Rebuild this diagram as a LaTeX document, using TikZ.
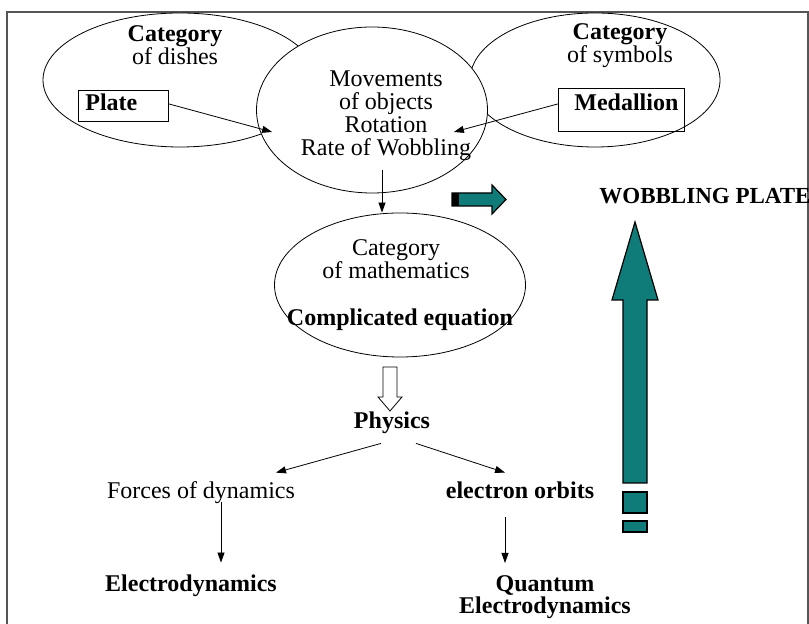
\documentclass[tikz,border=0pt,12pt]{standalone}
\usepackage{fontspec}
\setmainfont{Liberation Serif}
\usetikzlibrary{shapes.geometric,arrows.meta}
\definecolor{wobteal}{RGB}{16,124,122}
\definecolor{framegray}{RGB}{85,85,85}

\begin{document}
\begin{tikzpicture}[x=0.5pt, y=-0.5pt,
	oval/.style={draw, ellipse, inner sep=0pt, fill=white},
	lbl/.style={inner sep=2pt, text height=8.5pt, text depth=2.5pt},
	blk/.style={align=center, inner sep=2pt, font=\fontsize{12}{11.5}\selectfont},
	boxed/.style={draw, anchor=north west, inner ysep=0pt, font=\fontsize{12}{14}\selectfont\bfseries},
	arr/.style={-{Triangle[length=5pt,width=3.5pt]}},
	block/.style={draw, fill=wobteal, line width=0.6pt}]
	\useasboundingbox (0,0) rectangle (809,624);
	\draw[framegray, line width=0.8pt] (7,640) -- (7,12) -- (808,12) -- (808,640);
	\draw (180,80) node(dishes) [oval, minimum width=137pt, minimum height=67pt] {};
	\draw (595,80) node(symbols) [oval, minimum width=125pt, minimum height=67pt] {};
	\draw (372,110) node(moves) [oval, minimum width=115.5pt, minimum height=83pt] {};
	\draw (400,285) node(maths) [oval, minimum width=125.5pt, minimum height=72pt] {};
	\draw (175,45) node(dcat) [blk] {\textbf{Category}\\of dishes};
	\draw (620,46) node(scat) [blk] {\textbf{Category}\\of symbols};
	\draw (386,116) node(mtext) [blk] {Movements\\of objects\\Rotation\\Rate of Wobbling};
	\draw (396,259) node(mcat) [blk] {Category\\of mathematics};
	\draw (400,320) node(eqn) [lbl, font=\fontsize{12}{14}\selectfont\bfseries] {Complicated equation};
	\draw (78,90) node(plate) [boxed, inner xsep=3.5pt, text width=38pt, align=left, text height=10pt, text depth=5.5pt] {Plate};
	\draw (558,88) node(medal) [boxed, inner xsep=3pt, text width=57pt, align=right, text height=11pt, text depth=10.5pt] {Medallion};
	\draw (392,423) node(phys) [lbl, font=\fontsize{12}{14}\selectfont\bfseries] {Physics};
	\draw (201,493) node(forces) [lbl, font=\fontsize{12}{14}\selectfont] {Forces of dynamics};
	\draw (520,493) node(orbits) [lbl, font=\fontsize{12}{14}\selectfont\bfseries] {electron orbits};
	\draw (191,586) node(edyn) [lbl, font=\fontsize{12}{14}\selectfont\bfseries] {Electrodynamics};
	\draw (545,571) node(qed) [blk, anchor=north, font=\fontsize{12}{11}\selectfont\bfseries] {Quantum\\Electrodynamics};
	\draw (595,198) node(wob) [lbl, anchor=west, font=\fontsize{11.5}{13}\selectfont\bfseries] {WOBBLING PLATE};
	\path[draw, arr] ([yshift=1pt]plate.east) -- ([shift={(16,22)}]moves.west);
	\path[draw, arr] ([yshift=3pt]medal.west) -- ([shift={(-34,22)}]moves.east);
	\path[draw, arr] ([shift={(10,-23)}]moves.south) -- ([shift={(-18,0)}]maths.north);
	\path[draw, arr] ([shift={(-11,5)}]phys.south) -- ([shift={(75,-5)}]forces.north);
	\path[draw, arr] ([shift={(24,5)}]phys.south) -- ([shift={(-15,-5)}]orbits.north);
	\path[draw, arr] ([shift={(20,-6)}]forces.south) -- ([shift={(30,-8)}]edyn.north);
	\path[draw, arr] ([shift={(-15,9)}]orbits.south) -- ([shift={(-40,-8)}]qed.north);
	\draw[fill=white] (383,367) -- (397,367) -- (397,397) -- (402,397) -- (390,411) -- (378,397) -- (383,397) -- cycle;
	\draw[block] (452,193) -- (492,193) -- (492,185) -- (506,199.5) -- (492,214) -- (492,206) -- (452,206) -- cycle;
	\fill[black] (452,193) rectangle (459,206);
	\draw[block] (635,222) -- (658,300) -- (647,300) -- (647,483) -- (623,483) -- (623,300) -- (612,300) -- cycle;
	\draw[block] (623,492) rectangle (647,513);
	\draw[block] (623,521) rectangle (647,532);
\end{tikzpicture}
\end{document}
